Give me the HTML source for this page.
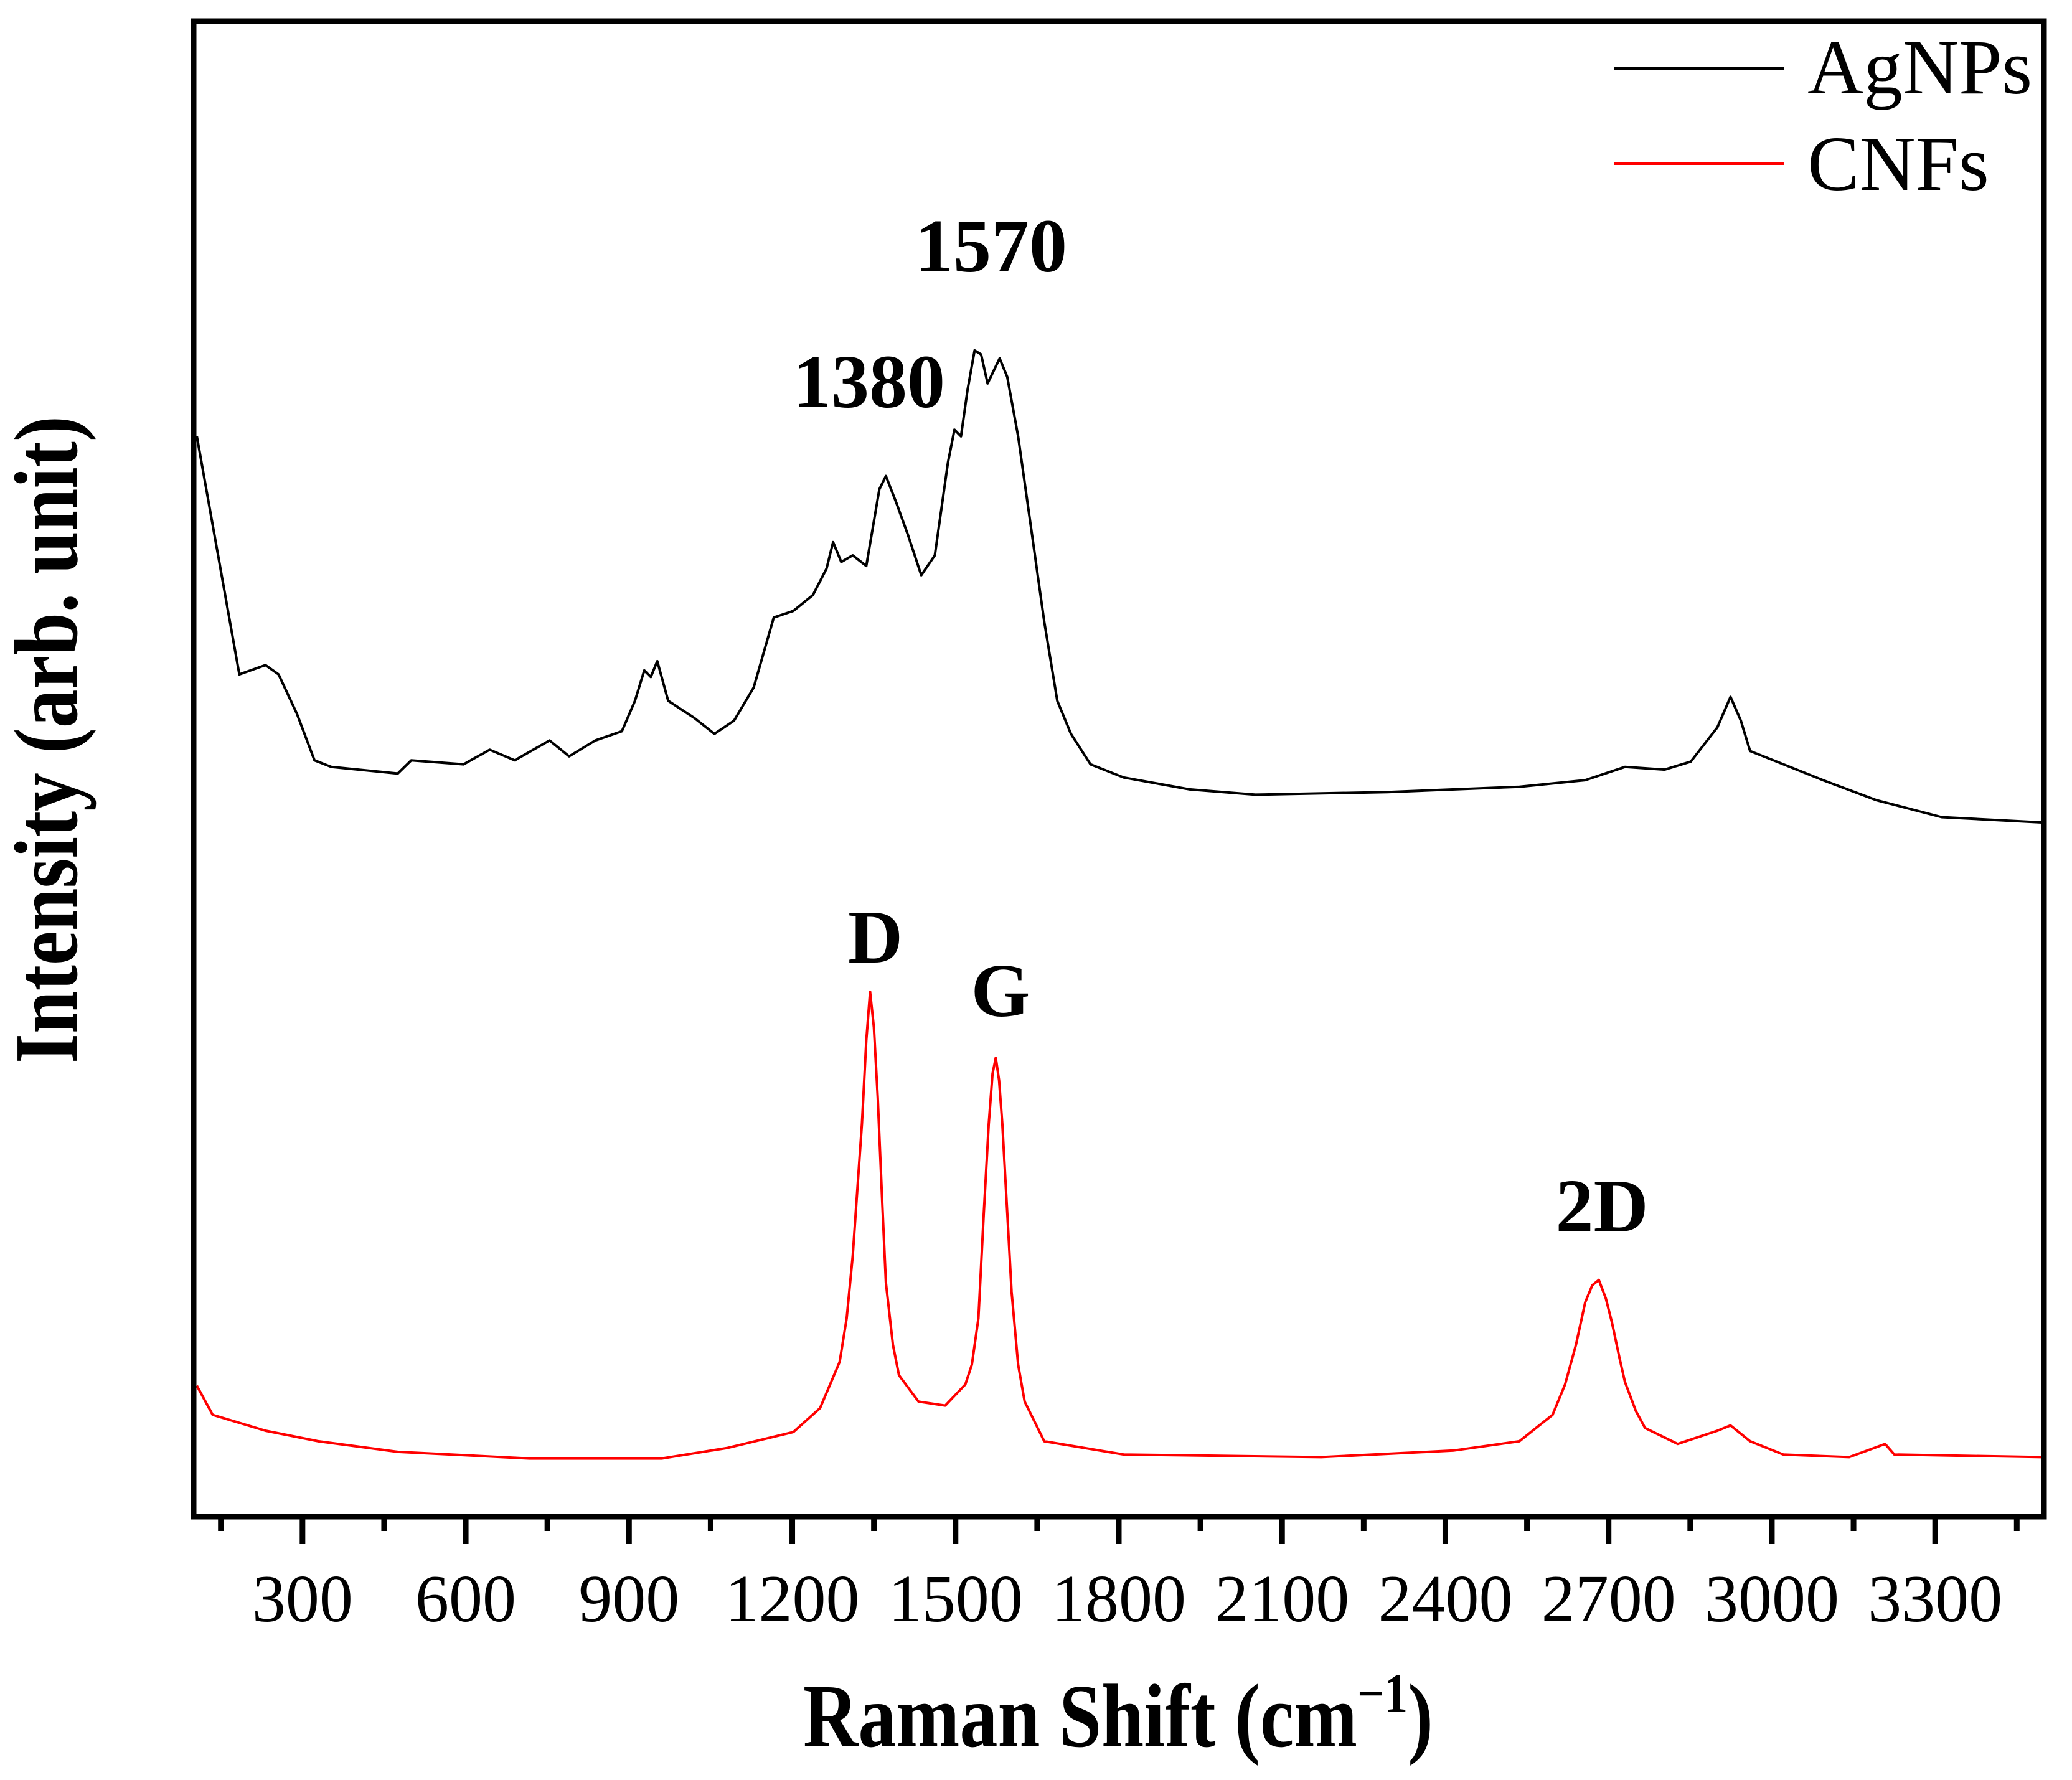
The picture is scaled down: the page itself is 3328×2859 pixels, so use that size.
<!DOCTYPE html>
<html><head><meta charset="utf-8"><style>
html,body{margin:0;padding:0;background:#fff;}
svg{display:block;}
text{font-family:"Liberation Serif",serif;}
</style></head><body>
<svg id="chart" width="3328" height="2859" viewBox="0 0 3328 2859" xmlns="http://www.w3.org/2000/svg">
<rect x="0" y="0" width="3328" height="2859" fill="#fff"/>
<g id="series"></g>
<g id="ticks"></g>
<rect x="311" y="34" width="2972" height="2402" fill="none" stroke="#000" stroke-width="9"/>
<text x="1592" y="436" font-size="122" font-weight="bold" text-anchor="middle">1570</text>
<text x="1396" y="654" font-size="122" font-weight="bold" text-anchor="middle">1380</text>
<text x="1406" y="1546" font-size="122" font-weight="bold" text-anchor="middle">D</text>
<text x="1607" y="1632" font-size="122" font-weight="bold" text-anchor="middle">G</text>
<text x="2573" y="1978" font-size="122" font-weight="bold" text-anchor="middle">2D</text>
<line x1="2593" y1="110" x2="2865" y2="110" stroke="#000" stroke-width="4"/>
<text x="2903" y="150" font-size="125">AgNPs</text>
<line x1="2593" y1="263" x2="2865" y2="263" stroke="#f00" stroke-width="4"/>
<text x="2903" y="305" font-size="125">CNFs</text>
<text x="1290" y="2805" font-size="145" font-weight="bold" textLength="1012" lengthAdjust="spacingAndGlyphs">Raman Shift (cm<tspan dy="-55" font-size="90">−1</tspan><tspan dy="55">)</tspan></text>
<text transform="translate(123,1188) rotate(-90)" font-size="145" font-weight="bold" text-anchor="middle" textLength="1040" lengthAdjust="spacingAndGlyphs">Intensity (arb. unit)</text>
</svg>
<script>
const agWn = [106,184,232,256,290,322,353,475,500,596,644,690,754,790,838,887,911,928,940,952,972,1020,1057,1093,1129,1166,1202,1238,1263,1275,1290,1311,1336,1360,1372,1391,1413,1437,1462,1486,1498,1510,1522,1535,1547,1559,1581,1595,1615,1639,1663,1687,1712,1748,1809,1930,2051,2294,2536,2657,2730,2803,2851,2900,2924,2943,2960,3009,3094,3191,3312,3496];
const agI  = [817,637,644,637,607,572,567,562,572,569,580,572,587,575,587,594,617,640,635,647,617,604,592,602,627,680,685,697,717,737,722,727,719,777,787,767,742,712,727,797,822,817,852,882,879,857,876,862,817,747,677,617,592,569,559,550,546,548,552,557,567,565,571,597,620,602,579,571,557,542,529,525];
const cnWn = [106,135,232,329,475,717,960,1081,1202,1251,1287,1300,1311,1320,1328,1336,1343,1350,1357,1365,1372,1385,1396,1432,1481,1518,1530,1542,1552,1561,1568,1574,1580,1586,1595,1603,1615,1627,1663,1809,2172,2415,2536,2597,2620,2640,2657,2670,2682,2695,2706,2720,2730,2750,2767,2827,2900,2924,2960,3021,3142,3208,3225,3496];
const cnI  = [99,77,65,57,49,44,44,52,64,82,117,150,197,250,297,360,397,370,317,240,177,130,107,87,84,100,115,150,230,297,335,347,330,297,230,170,115,87,57,47,45,50,57,77,100,130,162,175,179,165,147,120,102,80,67,55,65,69,57,47,45,55,47,45];
const xTicks = [300,600,900,1200,1500,1800,2100,2400,2700,3000,3300];
const xMinor = [150,450,750,1050,1350,1650,1950,2250,2550,2850,3150,3450];
const NS="http://www.w3.org/2000/svg";
function xs(v){return 311+(v-100)*(2972/3400);}
function ys(v){return 2436-v*(2402/1131);}
function path(wn,iv,color,name){
  const p=document.createElementNS(NS,'path');
  p.setAttribute('d',wn.map((w,i)=>(i?'L':'M')+xs(w).toFixed(1)+' '+ys(iv[i]).toFixed(1)).join(' '));
  p.setAttribute('fill','none');p.setAttribute('stroke',color);p.setAttribute('stroke-width','4');p.setAttribute('stroke-linejoin','round');
  
  
  document.getElementById('series').appendChild(p);
}
path(agWn,agI,'#000','series-agnps');
path(cnWn,cnI,'#f00','series-cnfs');
const tg=document.getElementById('ticks');
xTicks.forEach(t=>{
  const l=document.createElementNS(NS,'line');
  l.setAttribute('x1',xs(t));l.setAttribute('x2',xs(t));l.setAttribute('y1',2436);l.setAttribute('y2',2480);
  l.setAttribute('stroke','#000');l.setAttribute('stroke-width','9');
  
  
  tg.appendChild(l);
  const tx=document.createElementNS(NS,'text');
  tx.setAttribute('x',xs(t));tx.setAttribute('y',2604);tx.setAttribute('font-size','108');tx.setAttribute('text-anchor','middle');
  tx.textContent=t;
  
  
  tg.appendChild(tx);
});
xMinor.forEach(t=>{
  const l=document.createElementNS(NS,'line');
  l.setAttribute('x1',xs(t));l.setAttribute('x2',xs(t));l.setAttribute('y1',2436);l.setAttribute('y2',2459);
  l.setAttribute('stroke','#000');l.setAttribute('stroke-width','9');
  
  
  tg.appendChild(l);
});
</script>
</body></html>
